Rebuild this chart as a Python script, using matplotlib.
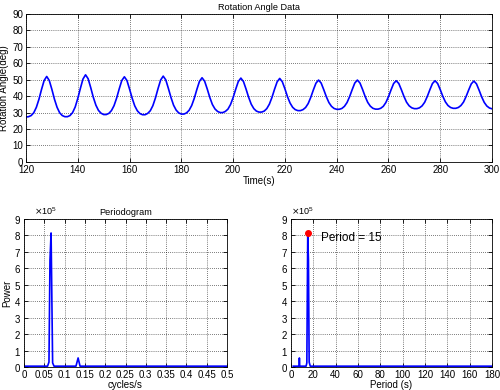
import numpy as np
import matplotlib.pyplot as plt
from matplotlib.ticker import ScalarFormatter

plt.rcParams['font.family'] = ['Liberation Sans', 'DejaVu Sans']
plt.rcParams['font.size'] = 7

# rotation angle samples, one per second from 120 s to 300 s
time_s = np.arange(120, 301)
angle_deg = [
    27.3, 27.5, 28.2, 29.9, 33.2, 38.1, 44.1, 49.5, 52.0,
    49.5, 44.1, 38.1, 33.2, 29.9, 28.2, 27.5,
    27.5, 28.2, 30.0, 33.4, 38.6, 44.7, 50.4, 53.0,
    50.6, 45.2, 39.3, 34.5, 31.3, 29.6, 28.8,
    28.8, 29.5, 31.2, 34.2, 38.8, 44.4, 49.5, 51.8,
    49.5, 44.3, 38.8, 34.1, 31.1, 29.4, 28.7,
    28.7, 29.5, 31.1, 34.2, 38.9, 44.6, 49.8, 52.2,
    49.9, 44.7, 39.2, 34.5, 31.5, 29.8, 29.1,
    29.1, 29.8, 31.4, 34.3, 38.7, 44.1, 49.0, 51.2,
    49.1, 44.4, 39.2, 34.9, 32.2, 30.7, 30.0,
    30.0, 30.7, 32.1, 34.9, 39.1, 44.2, 48.9, 51.0,
    48.9, 44.3, 39.3, 35.1, 32.4, 30.9, 30.3,
    30.3, 30.9, 32.4, 35.1, 39.2, 44.2, 48.7, 50.8,
    48.8, 44.5, 39.7, 35.8, 33.2, 31.8, 31.2,
    31.2, 31.8, 33.1, 35.5, 39.3, 43.8, 47.9, 49.8,
    48.0, 44.0, 39.7, 36.1, 33.8, 32.5, 32.0,
    32.0, 32.5, 33.8, 36.1, 39.7, 44.0, 48.0, 49.8,
    48.0, 44.1, 39.8, 36.2, 33.9, 32.6, 32.1,
    32.1, 32.6, 33.8, 36.1, 39.6, 43.8, 47.7, 49.4,
    47.7, 43.9, 39.8, 36.3, 34.1, 32.9, 32.4,
    32.4, 32.9, 34.1, 36.3, 39.8, 43.9, 47.7, 49.4,
    47.7, 44.0, 39.9, 36.5, 34.3, 33.1, 32.6,
    32.6, 33.1, 34.3, 36.4, 39.8, 43.8, 47.5, 49.2,
    47.5, 43.7, 39.6, 36.2, 34.0, 32.8, 32.3,
]

# periodogram samples
freq = np.array([0.0, 0.00556, 0.058, 0.0615, 0.064, 0.0667, 0.0705, 0.074,
                 0.128, 0.1333, 0.138, 0.5])
power = np.array([0.05, 0.05, 0.05, 0.3, 6.5, 8.15, 0.25, 0.05,
                  0.05, 0.55, 0.05, 0.05]) * 1e5

period = 1.0 / freq[1:]
period_power = power[1:]
peak_period = 15
peak_power = 8.15e5

blue = '#0000ff'


def style(ax):
    ax.grid(True, color='k', linestyle=(0, (1, 2)), linewidth=0.5)
    ax.tick_params(direction='in', length=3, width=0.6, top=True, right=True, pad=2)
    for s in ax.spines.values():
        s.set_linewidth(0.6)


def sci(ax, xoff):
    fmt = ScalarFormatter(useMathText=True)
    fmt.set_powerlimits((0, 0))
    ax.yaxis.set_major_formatter(fmt)
    ax.yaxis.get_offset_text().set_fontsize(6.5)
    ax.yaxis.get_offset_text().set_x(xoff)


fig = plt.figure(figsize=(5, 3.9), dpi=100)

ax1 = fig.add_axes([0.052, 0.585, 0.932, 0.379])
ax1.plot(time_s, angle_deg, color=blue, linewidth=1.2)
ax1.set_xlim(120, 300)
ax1.set_ylim(0, 90)
ax1.set_xticks(np.arange(120, 301, 20))
ax1.set_yticks(np.arange(0, 91, 10))
ax1.set_title('Rotation Angle Data', fontsize=6.6, pad=3)
ax1.set_xlabel('Time(s)', labelpad=1)
ax1.set_ylabel('Rotation Angle(deg)')
ax1.yaxis.set_label_coords(-0.036, 0.5)
style(ax1)

ax2 = fig.add_axes([0.048, 0.059, 0.406, 0.3795])
ax2.plot(freq, power, color=blue, linewidth=1.2)
ax2.set_xlim(0, 0.5)
ax2.set_ylim(0, 9e5)
ax2.set_xticks(np.arange(0, 0.51, 0.05))
ax2.set_xticklabels(['0', '0.05', '0.1', '0.15', '0.2', '0.25', '0.3',
                     '0.35', '0.4', '0.45', '0.5'])
ax2.set_yticks(np.arange(0, 9.1e5, 1e5))
sci(ax2, 0.05)
ax2.set_title('Periodogram', fontsize=6.6, pad=3)
ax2.set_xlabel('cycles/s', labelpad=0)
ax2.set_ylabel('Power')
ax2.yaxis.set_label_coords(-0.06, 0.5)
style(ax2)

ax3 = fig.add_axes([0.582, 0.059, 0.402, 0.3795])
ax3.plot(period, period_power, color=blue, linewidth=1.2)
ax3.plot([peak_period], [peak_power], 'o', color='red', markersize=4)
ax3.text(27, 7.85e5, 'Period = 15', fontsize=8.5, va='center')
ax3.set_xlim(0, 180)
ax3.set_ylim(0, 9e5)
ax3.set_xticks(np.arange(0, 181, 20))
ax3.set_yticks(np.arange(0, 9.1e5, 1e5))
sci(ax3, 0.0)
ax3.set_xlabel('Period (s)', labelpad=0)
style(ax3)

fig.savefig('out.png', dpi=100)
